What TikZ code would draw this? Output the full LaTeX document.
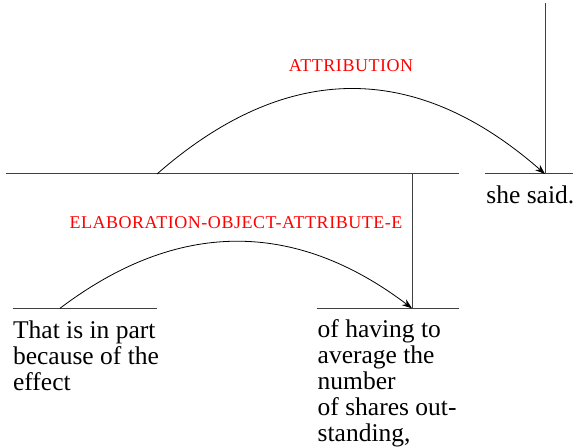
\documentclass[tikz,border=0pt]{standalone}
\usepackage{fontspec}
\setmainfont{Liberation Serif}
\usetikzlibrary{arrows.meta, positioning, calc}

\begin{document}
\begin{tikzpicture}[
    x=0.5pt, y=-0.5pt,
    leaf/.style={anchor=north west, inner sep=0pt, align=left, font=\fontsize{12.75}{13}\selectfont},
    rel/.style={anchor=base, inner sep=0pt, text=red, font=\fontsize{9}{10}\selectfont\addfontfeature{LetterSpace=3}},
    bar/.style={draw=black!75, line width=0.5pt},
    arc/.style={-{Stealth[length=5pt, width=3.6pt]}, line width=0.4pt}
]
\useasboundingbox (0,0) rectangle (573,448);

% span bars
\coordinate (root l) at (5.5,174);
\coordinate (root r) at (458.7,174);
\coordinate (said l) at (485,174);
\coordinate (said r) at (573,174);
\coordinate (effect l) at (12.5,308.3);
\coordinate (effect r) at (157,308.3);
\coordinate (having l) at (317,308.3);
\coordinate (having r) at (459,308.3);

% nuclei and arc ends
\coordinate (top) at (545,3.3);
\coordinate (said n) at (545,174);
\coordinate (root s) at (157,174);
\coordinate (root n) at (412,174);
\coordinate (having n) at (412,308.3);
\coordinate (effect s) at (60,308.3);

% leaves
\node (effect) [leaf] at (12.7,320.5) {That is in part\\because of the\\effect};
\node (having) [leaf] at (317.3,319.5) {of having to\\average the\\number\\of shares out-\\standing,};
\node (said) [leaf] at (486,185.6) {she said.};

\draw [bar] (root l) -- (root r);
\draw [bar] (said l) -- (said r);
\draw [bar] (effect l) -- (effect r);
\draw [bar] (having l) -- (having r);
\draw [bar] (top) -- (said n);
\draw [bar] (root n) -- (having n);

% relations
\draw [arc] (root s) .. controls ($(root s)!1/3!(said n)+(0,-113.3)$) and ($(root s)!2/3!(said n)+(0,-113.3)$) .. (said n);
\node (attribution) [rel] at ($(root s)!0.5!(said n)+(0,-102.3)$) {ATTRIBUTION};

\draw [arc] (effect s) .. controls ($(effect s)!1/3!(having n)+(0,-88.8)$) and ($(effect s)!2/3!(having n)+(0,-88.8)$) .. (having n);
\node (elaboration) [rel] at ($(effect s)!0.5!(having n)+(0,-80)$) {ELABORATION-OBJECT-ATTRIBUTE-E};

\end{tikzpicture}
\end{document}
